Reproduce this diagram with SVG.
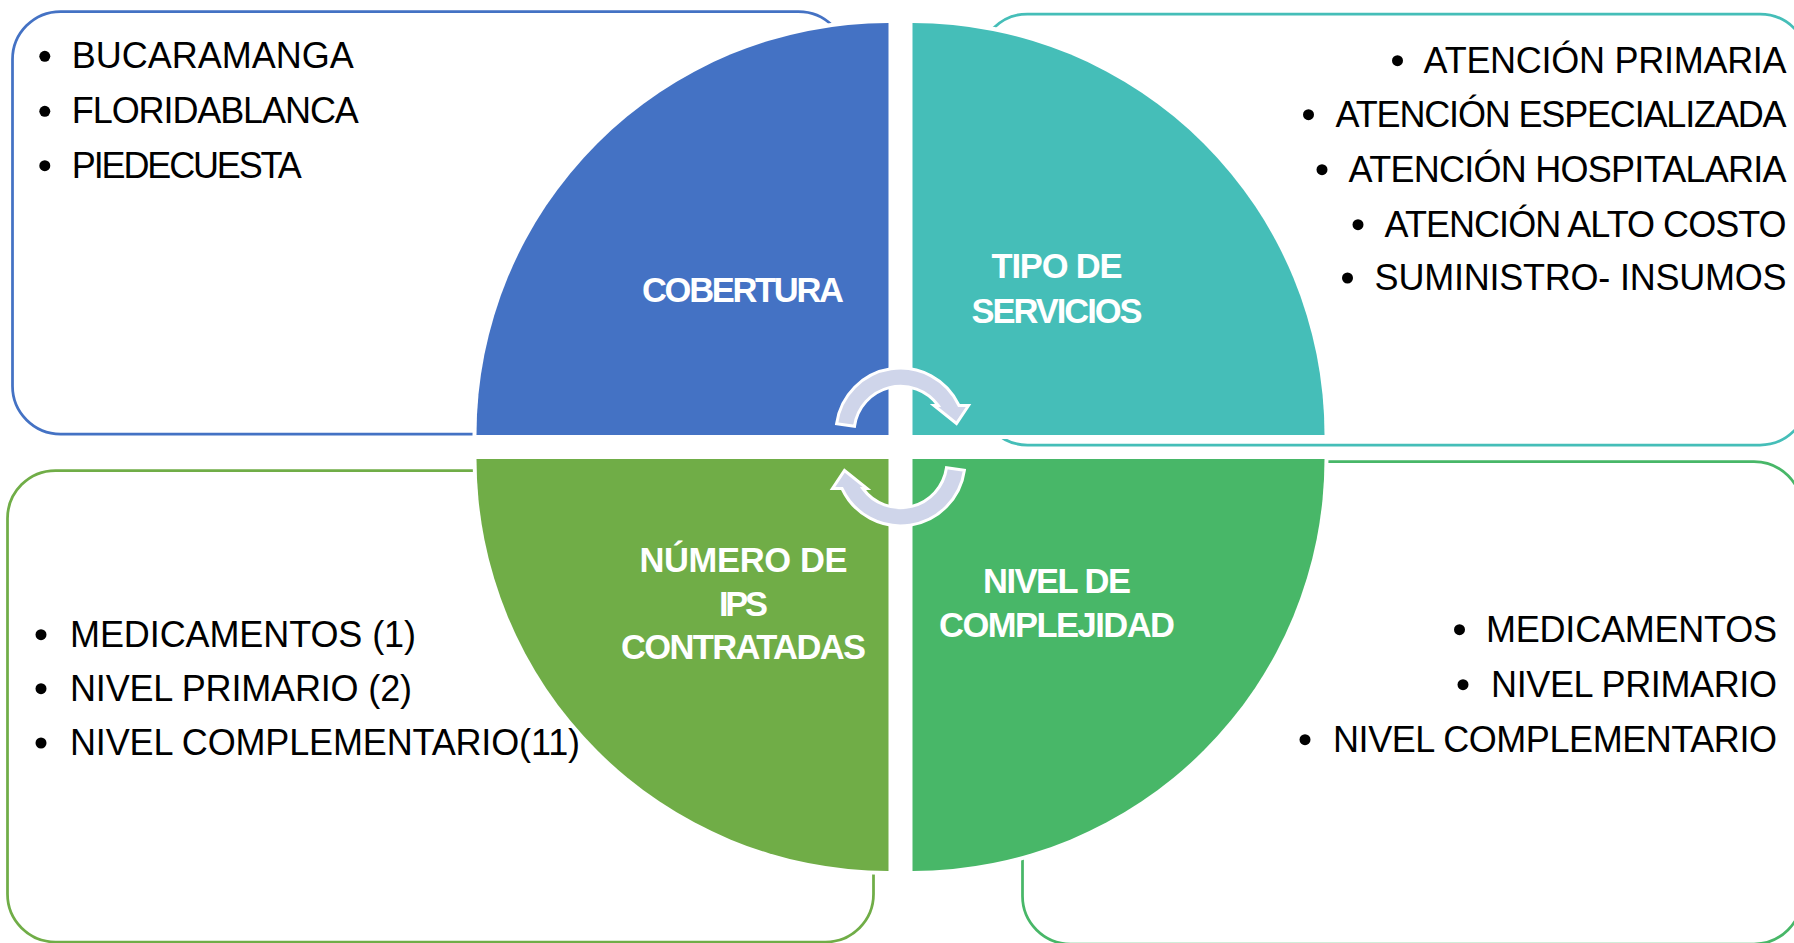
<svg xmlns="http://www.w3.org/2000/svg" width="1794" height="943" viewBox="0 0 1794 943">
<style>
.box{fill:none;stroke-width:2.75}
.q{stroke:#fff;stroke-width:8;paint-order:stroke}
.lbl{font-family:"Liberation Sans",Arial,sans-serif;font-weight:bold;font-size:34.5px;fill:#fff;text-anchor:middle}
.li{font-family:"Liberation Sans",Arial,sans-serif;font-size:36px;fill:#000}
.end{text-anchor:end}
.bul{fill:#000}
.arr{fill:#CFD5EA;stroke:#fff;stroke-width:3}
</style>
<rect width="1794" height="943" fill="#fff"/>
<g id="cobertura">
  <rect class="box" x="12.5" y="11.5" width="834" height="422.5" rx="48" stroke="#4472C4"/>
  <path class="q" d="M888.5 435 L476.5 435 A412 412 0 0 1 888.5 23 Z" fill="#4472C4"/>
  <text class="lbl" x="743" y="301.7" textLength="202">COBERTURA</text>
  <circle class="bul" cx="44.8" cy="56.3" r="5.5"/>
  <circle class="bul" cx="44.8" cy="111.3" r="5.5"/>
  <circle class="bul" cx="44.8" cy="165.7" r="5.5"/>
  <text class="li" x="71.8" y="68.3" textLength="282">BUCARAMANGA</text>
  <text class="li" x="71.8" y="123.3" textLength="287">FLORIDABLANCA</text>
  <text class="li" x="71.8" y="177.7" textLength="230">PIEDECUESTA</text>
</g>
<g id="tipo-de-servicios">
  <rect class="box" x="979.5" y="14" width="828.5" height="431" rx="48" stroke="#45BEB8"/>
  <path class="q" d="M912.5 435 L912.5 23 A412 412 0 0 1 1324.5 435 Z" fill="#45BEB8"/>
  <text class="lbl" x="1057" y="278.3" textLength="131">TIPO DE</text>
  <text class="lbl" x="1057" y="323.3" textLength="171">SERVICIOS</text>
  <circle class="bul" cx="1397.5" cy="60.7" r="5.5"/>
  <circle class="bul" cx="1308.5" cy="114.7" r="5.5"/>
  <circle class="bul" cx="1322" cy="169.7" r="5.5"/>
  <circle class="bul" cx="1358" cy="224.7" r="5.5"/>
  <circle class="bul" cx="1347.5" cy="278" r="5.5"/>
  <text class="li end" x="1786.6" y="72.7" textLength="363">ATENCIÓN PRIMARIA</text>
  <text class="li end" x="1786.6" y="126.7" textLength="451">ATENCIÓN ESPECIALIZADA</text>
  <text class="li end" x="1786.6" y="181.7" textLength="438">ATENCIÓN HOSPITALARIA</text>
  <text class="li end" x="1786.6" y="236.7" textLength="402">ATENCIÓN ALTO COSTO</text>
  <text class="li end" x="1786.6" y="290" textLength="412">SUMINISTRO- INSUMOS</text>
</g>
<g id="numero-de-ips">
  <rect class="box" x="7.5" y="470.5" width="866" height="471.5" rx="48" stroke="#70AD47"/>
  <path class="q" d="M888.5 459 L888.5 871 A412 412 0 0 1 476.5 459 Z" fill="#70AD47"/>
  <text class="lbl" x="743.5" y="571.7" textLength="208">NÚMERO DE</text>
  <text class="lbl" x="743.5" y="615.7" textLength="49">IPS</text>
  <text class="lbl" x="743.5" y="659.3" textLength="245">CONTRATADAS</text>
  <circle class="bul" cx="41" cy="634.7" r="5.5"/>
  <circle class="bul" cx="41" cy="688.7" r="5.5"/>
  <circle class="bul" cx="41" cy="743" r="5.5"/>
  <text class="li" x="70" y="646.7" textLength="346">MEDICAMENTOS (1)</text>
  <text class="li" x="70" y="700.7" textLength="342">NIVEL PRIMARIO (2)</text>
  <text class="li" x="70" y="755" textLength="510">NIVEL COMPLEMENTARIO(11)</text>
</g>
<g id="nivel-de-complejidad">
  <rect class="box" x="1022.5" y="461.5" width="779.5" height="482.5" rx="48" stroke="#48B768"/>
  <path class="q" d="M912.5 459 L1324.5 459 A412 412 0 0 1 912.5 871 Z" fill="#48B768"/>
  <text class="lbl" x="1057" y="593.3" textLength="148">NIVEL DE</text>
  <text class="lbl" x="1057" y="637.3" textLength="236">COMPLEJIDAD</text>
  <circle class="bul" cx="1459.5" cy="629.7" r="5.5"/>
  <circle class="bul" cx="1463" cy="684.7" r="5.5"/>
  <circle class="bul" cx="1305" cy="739.7" r="5.5"/>
  <text class="li end" x="1777" y="641.7" textLength="291">MEDICAMENTOS</text>
  <text class="li end" x="1777" y="696.7" textLength="286">NIVEL PRIMARIO</text>
  <text class="li end" x="1777" y="751.7" textLength="444">NIVEL COMPLEMENTARIO</text>
</g>
<g id="connectors">
  <path id="arrow-top" class="arr" d="M836.6 423.7 A64.5 64.5 0 0 1 959 405.5 L968.5 405.5 L956.5 423.5 L934 405.5 L938.2 405.5 A46.5 46.5 0 0 0 854.5 426.2 Z"/>
  <path id="arrow-bottom" class="arr" transform="rotate(180 900.5 447)" d="M836.6 423.7 A64.5 64.5 0 0 1 959 405.5 L968.5 405.5 L956.5 423.5 L934 405.5 L938.2 405.5 A46.5 46.5 0 0 0 854.5 426.2 Z"/>
</g>
</svg>
